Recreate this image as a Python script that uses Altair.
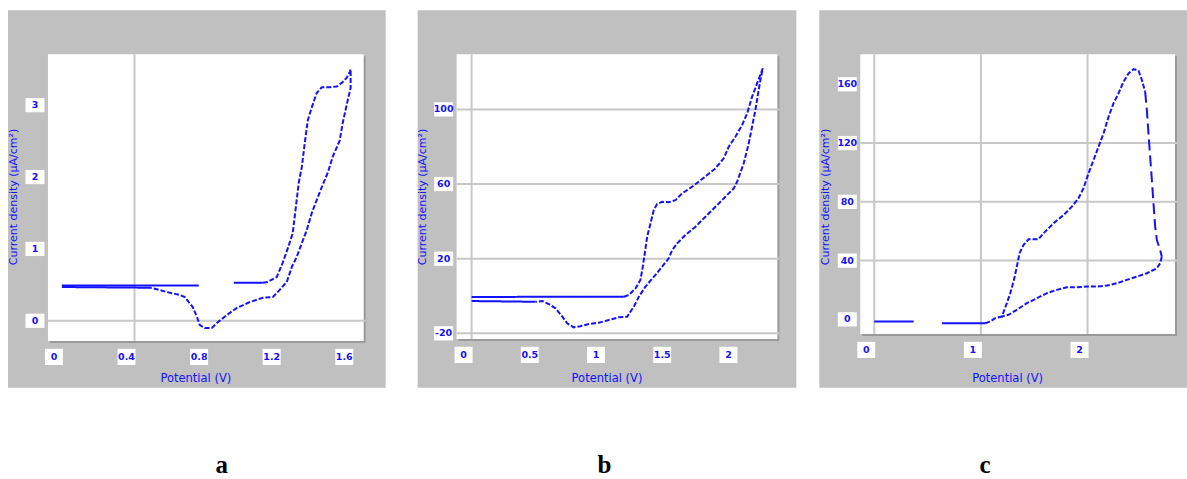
import altair as alt
import pandas as pd

BLUE = "#1212ff"
PANEL_GRAY = "#c0c0c0"
GRID_GRAY = "#c8c8c8"
SHADOW_GRAY = "#9a9a9a"
FONT = "DejaVu Sans"

# ---------------- panel a ----------------
a_x_ticks = [0, 0.4, 0.8, 1.2, 1.6]
a_x_labels = ["0", "0.4", "0.8", "1.2", "1.6"]
a_y_ticks = [0, 1, 2, 3]
a_y_labels = ["0", "1", "2", "3"]
a_x_grid = [0.4]
a_y_grid = [0]

a_hold_E = [0.0, 0.754]
a_hold_I = [0.49, 0.49]
a_step_E = [0.947, 1.107]
a_step_I = [0.53, 0.53]
a_loop_E = [1.107, 1.134, 1.184, 1.217, 1.245, 1.272, 1.289, 1.305, 1.322, 1.338,
            1.355, 1.377, 1.404, 1.432, 1.476, 1.514, 1.542, 1.569, 1.586, 1.591,
            1.591, 1.575, 1.547, 1.531, 1.492, 1.465, 1.432, 1.404, 1.377, 1.349,
            1.322, 1.294, 1.267, 1.239, 1.200, 1.162, 1.107, 1.035, 0.964, 0.909,
            0.854, 0.826, 0.787, 0.760, 0.743, 0.721, 0.677, 0.650, 0.578, 0.523,
            0.485]
a_loop_I = [0.53, 0.54, 0.61, 0.81, 1.01, 1.22, 1.58, 1.92, 2.14, 2.47,
            2.79, 2.97, 3.17, 3.25, 3.25, 3.26, 3.31, 3.38, 3.46, 3.50,
            3.24, 3.07, 2.75, 2.51, 2.28, 2.06, 1.86, 1.68, 1.50, 1.26,
            1.08, 0.89, 0.75, 0.54, 0.43, 0.33, 0.32, 0.26, 0.18, 0.08,
            -0.03, -0.10, -0.10, -0.06, 0.06, 0.19, 0.33, 0.36, 0.40, 0.44,
            0.46]
a_back_E = [0.485, 0.0]
a_back_I = [0.46, 0.47]

# ---------------- panel b ----------------
b_x_ticks = [0, 0.5, 1, 1.5, 2]
b_x_labels = ["0", "0.5", "1", "1.5", "2"]
b_y_ticks = [-20, 20, 60, 100]
b_y_labels = ["-20", "20", "60", "100"]
b_x_grid = [0]
b_y_grid = [-20, 20, 60, 100]

b_hold_E = [0.0, 1.150]
b_hold_I = [-0.5, -0.4]
b_loop_E = [1.150, 1.187, 1.238, 1.275, 1.293, 1.308, 1.326, 1.351, 1.376, 1.401,
            1.439, 1.489, 1.540, 1.590, 1.640, 1.715, 1.779, 1.842, 1.904, 1.942,
            1.992, 2.043, 2.081, 2.118, 2.156, 2.199,
            2.181, 2.164, 2.143, 2.118, 2.093, 2.055, 2.005, 1.980, 1.917, 1.842,
            1.766, 1.691, 1.615, 1.553, 1.515, 1.489, 1.439, 1.376, 1.313, 1.263,
            1.225, 1.175, 1.112, 1.036, 0.961, 0.885, 0.810, 0.772, 0.722, 0.685,
            0.634, 0.583, 0.534, 0.483]
b_loop_I = [-0.4, 0.5, 4.1, 8.6, 15.7, 22.9, 31.8, 38.9, 46.1, 49.3,
            50.5, 50.2, 51.4, 55.0, 57.3, 61.2, 64.8, 68.4, 73.8, 80.0,
            85.3, 91.6, 97.9, 106.7, 113.9, 122.0,
            115.7, 108.6, 99.6, 90.7, 81.8, 71.1, 61.2, 57.7, 53.2, 47.8,
            42.5, 37.1, 32.7, 28.2, 24.6, 20.2, 15.7, 10.3, 5.0, -0.4,
            -5.7, -11.1, -11.4, -12.9, -14.3, -15.0, -16.4, -16.8, -14.6, -11.1,
            -6.6, -4.3, -2.7, -3.1]
b_back_E = [0.483, 0.0]
b_back_I = [-3.1, -2.7]

# ---------------- panel c ----------------
c_x_ticks = [0, 1, 2]
c_x_labels = ["0", "1", "2"]
c_y_ticks = [0, 40, 80, 120, 160]
c_y_labels = ["0", "40", "80", "120", "160"]
c_x_grid = [0, 1, 2]
c_y_grid = [40, 80, 120]

c_hold_E = [0.0, 0.369]
c_hold_I = [-1.5, -1.5]
c_step_E = [0.634, 1.040]
c_step_I = [-2.6, -2.6]
c_rise_E = [1.040, 1.087, 1.134, 1.197, 1.243, 1.275, 1.306, 1.337, 1.362, 1.399,
            1.446, 1.540, 1.587, 1.681, 1.775, 1.853, 1.915, 1.962, 2.009, 2.056,
            2.103, 2.150, 2.197, 2.243, 2.290, 2.337, 2.384, 2.431, 2.478, 2.509,
            2.540]
c_rise_I = [-2.6, -1.5, 0.8, 1.9, 11.0, 17.8, 25.7, 35.9, 45.0, 50.6,
            54.5, 54.5, 58.6, 65.4, 71.0, 76.7, 82.4, 89.2, 99.4, 108.4,
            117.5, 126.6, 137.9, 147.0, 153.8, 161.7, 167.4, 170.3, 169.2, 162.9,
            155.0]
c_drop_E = [2.540, 2.556, 2.571, 2.587, 2.603, 2.618, 2.634, 2.650, 2.681, 2.696]
c_drop_I = [155.0, 142.6, 126.6, 110.7, 94.8, 79.0, 63.1, 54.0, 47.2, 42.7]
c_back_E = [2.696, 2.681, 2.650, 2.556, 2.462, 2.368, 2.275, 2.181, 2.087, 1.993,
            1.900, 1.806, 1.712, 1.619, 1.525, 1.431, 1.337, 1.259, 1.197]
c_back_I = [42.7, 38.2, 34.8, 31.4, 29.1, 26.9, 24.6, 23.0, 22.3, 22.3,
            21.9, 21.9, 20.1, 17.8, 14.4, 11.0, 6.5, 3.1, 1.9]

X_TITLE = "Potential (V)"
Y_TITLE = "Current density (\u00b5A/cm\u00b2)"


def trace(pieces):
    """Stack (style, E, I) stretches of a scan into one table."""
    frames = []
    for k, (style, e, i) in enumerate(pieces):
        frames.append(pd.DataFrame({"seg": k, "style": style, "E": e, "I": i,
                                    "n": range(len(e))}))
    return pd.concat(frames, ignore_index=True)


ONE = pd.DataFrame({"k": [0]})
DASH = alt.StrokeDash("style:N",
                      scale=alt.Scale(domain=["solid", "dash", "long"],
                                      range=[[1, 0], [5, 2], [11, 5]]),
                      legend=None)

# white label boxes; the x-label box is centred 8 px left of its tick
X_BOX = "M-1.89,-0.9H0.11V0.9H-1.89Z"
Y_BOX = "M-1,-0.75H1V0.75H-1Z"


def panel(lines, W, H, xdom, ydom, xt, xl, yt, yl, xg, yg,
          left, gray_right, slot_right, letter, letter_x):
    xs = alt.Scale(domain=xdom, nice=False, zero=False)
    ys = alt.Scale(domain=ydom, nice=False, zero=False)

    slot = alt.Chart(ONE).mark_rect(fill="white").encode(
        x=alt.value(left), x2=alt.value(slot_right),
        y=alt.value(-44), y2=alt.value(334))
    gray = alt.Chart(ONE).mark_rect(fill=PANEL_GRAY).encode(
        x=alt.value(left), x2=alt.value(gray_right),
        y=alt.value(-44), y2=alt.value(334))
    shadow = alt.Chart(ONE).mark_rect(fill=SHADOW_GRAY).encode(
        x=alt.value(2), x2=alt.value(W + 2), y=alt.value(2), y2=alt.value(H + 2))
    plot_bg = alt.Chart(ONE).mark_rect(fill="white").encode(
        x=alt.value(0), x2=alt.value(W), y=alt.value(0), y2=alt.value(H))

    vgrid = alt.Chart(pd.DataFrame({"g": xg})).mark_rule(
        color=GRID_GRAY, strokeWidth=2).encode(
        x=alt.X("g:Q", scale=xs, axis=None), y=alt.value(0), y2=alt.value(H))
    hgrid = alt.Chart(pd.DataFrame({"g": yg})).mark_rule(
        color=GRID_GRAY, strokeWidth=2).encode(
        y=alt.Y("g:Q", scale=ys, axis=None), x=alt.value(0), x2=alt.value(W + 2))

    curve = alt.Chart(lines).mark_line(color=BLUE, strokeWidth=2,
                                       strokeCap="butt").encode(
        x=alt.X("E:Q", scale=xs, axis=None),
        y=alt.Y("I:Q", scale=ys, axis=None),
        detail="seg:N", order="n:Q", strokeDash=DASH)

    xt_df = pd.DataFrame({"v": xt, "t": xl})
    yt_df = pd.DataFrame({"v": yt, "t": yl})
    xbox = alt.Chart(xt_df).mark_point(shape=X_BOX, filled=True, fill="white",
                                       opacity=1, size=324, strokeWidth=0).encode(
        x=alt.X("v:Q", scale=xs, axis=None), y=alt.value(H + 16))
    xtxt = alt.Chart(xt_df).mark_text(color=BLUE, font=FONT, fontSize=9.5,
                                      fontWeight="bold", dx=-8, baseline="middle").encode(
        x=alt.X("v:Q", scale=xs, axis=None), y=alt.value(H + 16), text="t:N")
    ybox = alt.Chart(yt_df).mark_point(shape=Y_BOX, filled=True, fill="white",
                                       opacity=1, size=361, strokeWidth=0).encode(
        y=alt.Y("v:Q", scale=ys, axis=None), x=alt.value(-13))
    ytxt = alt.Chart(yt_df).mark_text(color=BLUE, font=FONT, fontSize=9.5,
                                      fontWeight="bold", baseline="middle").encode(
        y=alt.Y("v:Q", scale=ys, axis=None), x=alt.value(-13), text="t:N")

    xtitle = alt.Chart(ONE).mark_text(text=X_TITLE, color=BLUE, font=FONT,
                                      fontSize=11.5, baseline="middle").encode(
        x=alt.value(W / 2 - 10), y=alt.value(325))
    ytitle = alt.Chart(ONE).mark_text(text=Y_TITLE, color=BLUE, font=FONT,
                                      fontSize=11, angle=270,
                                      baseline="middle").encode(
        x=alt.value(-34), y=alt.value(143))
    tag = alt.Chart(ONE).mark_text(text=letter, font="Liberation Serif",
                                   fontSize=25, fontWeight="bold", color="black",
                                   baseline="middle").encode(
        x=alt.value(letter_x), y=alt.value(411))

    return alt.layer(slot, gray, shadow, plot_bg, vgrid, hgrid, curve,
                     xbox, xtxt, ybox, ytxt, xtitle, ytitle, tag).properties(
        width=W, height=H)


lines_a = trace([("solid", a_hold_E, a_hold_I), ("solid", a_step_E, a_step_I),
                 ("dash", a_loop_E, a_loop_I), ("solid", a_back_E, a_back_I)])
lines_b = trace([("solid", b_hold_E, b_hold_I), ("dash", b_loop_E, b_loop_I),
                 ("solid", b_back_E, b_back_I)])
lines_c = trace([("solid", c_hold_E, c_hold_I), ("solid", c_step_E, c_step_I),
                 ("dash", c_rise_E, c_rise_I), ("long", c_drop_E, c_drop_I),
                 ("dash", c_back_E, c_back_I)])

pa = panel(lines_a, 316, 287, [-0.077, 1.663], [-0.28, 3.71],
           a_x_ticks, a_x_labels, a_y_ticks, a_y_labels, a_x_grid, a_y_grid,
           -40, 316 + 22, 316 + 53, "a", 174)
pb = panel(lines_b, 321, 285, [-0.113, 2.309], [-23.0, 129.6],
           b_x_ticks, b_x_labels, b_y_ticks, b_y_labels, b_x_grid, b_y_grid,
           -39, 321 + 19, 321 + 42, "b", 148)
pc = panel(lines_c, 315, 280, [-0.131, 2.82], [-9.9, 180.5],
           c_x_ticks, c_x_labels, c_y_ticks, c_y_labels, c_x_grid, c_y_grid,
           -41, 315 + 12, 315 + 12, "c", 125)

chart = alt.hconcat(pa, pb, pc, spacing=0).properties(
    padding={"left": 8, "top": 10, "right": 0, "bottom": 0},
    background="white",
).configure_view(stroke=None, fill=None)

chart.save("out.html", embed_options={"renderer": "svg", "actions": False})
